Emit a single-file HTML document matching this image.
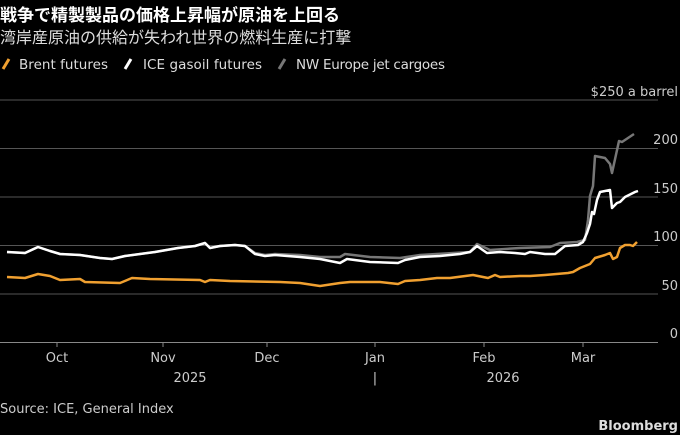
<!DOCTYPE html>
<html><head><meta charset="utf-8"><style>
body{margin:0;background:#000;width:680px;height:435px;overflow:hidden;font-family:"DejaVu Sans","Noto Sans CJK JP",sans-serif;color:#fff}
.t{position:absolute;left:0;top:1px;font-size:17px;font-weight:bold;white-space:nowrap;font-family:"Liberation Sans","Noto Sans CJK JP",sans-serif}
.s{position:absolute;left:0;top:24px;font-size:16px;color:#ddd;white-space:nowrap;font-family:"Liberation Sans","Noto Sans CJK JP",sans-serif}
</style></head><body>
<div class="t">戦争で精製製品の価格上昇幅が原油を上回る</div>
<div class="s">湾岸産原油の供給が失われ世界の燃料生産に打撃</div>
<svg width="680" height="435" style="position:absolute;left:0;top:0" font-family="DejaVu Sans, sans-serif">
<g font-size="13.5" fill="#ddd">
<line x1="3" y1="69" x2="9" y2="59" stroke="#f0a030" stroke-width="3"/>
<text x="19" y="69" textLength="89">Brent futures</text>
<line x1="125" y1="69" x2="131" y2="59" stroke="#fff" stroke-width="3"/>
<text x="143" y="69" textLength="119">ICE gasoil futures</text>
<line x1="279" y1="69" x2="285" y2="59" stroke="#777" stroke-width="3"/>
<text x="296" y="69" textLength="149">NW Europe jet cargoes</text>
</g>
<g stroke="#555" stroke-width="1">
<line x1="0" y1="100" x2="658" y2="100"/><line x1="0" y1="148.5" x2="658" y2="148.5"/>
<line x1="0" y1="197" x2="658" y2="197"/><line x1="0" y1="245.5" x2="658" y2="245.5"/>
<line x1="0" y1="294" x2="658" y2="294"/>
</g>
<line x1="0" y1="342.5" x2="658" y2="342.5" stroke="#888"/>
<g stroke="#888"><line x1="57" y1="342" x2="57" y2="347"/><line x1="163" y1="342" x2="163" y2="347"/><line x1="267" y1="342" x2="267" y2="347"/><line x1="375" y1="342" x2="375" y2="347"/><line x1="484" y1="342" x2="484" y2="347"/><line x1="583" y1="342" x2="583" y2="347"/></g>
<g font-size="13" fill="#ccc" text-anchor="end">
<text x="678" y="96">$250 a barrel</text>
<text x="678" y="144">200</text><text x="678" y="193">150</text>
<text x="678" y="241">100</text><text x="678" y="290">50</text><text x="678" y="338">0</text>
</g>
<g font-size="13" fill="#ccc" text-anchor="middle">
<text x="57" y="362">Oct</text><text x="163" y="362">Nov</text><text x="267" y="362">Dec</text>
<text x="375" y="362">Jan</text><text x="484" y="362">Feb</text><text x="583" y="362">Mar</text>
<text x="190" y="382">2025</text><text x="375" y="382">|</text><text x="503" y="382">2026</text>
</g>
<g fill="none" stroke-width="2.5" stroke-linejoin="round">
<polyline stroke="#777" points="7,252 25,253 38,247 50,251 60,254 80,255 100,258 112,259 125,256 155,252 178,248 195,246 205,243 210,248 220,246 235,245 245,246 255,253 265,255 275,254 300,255 320,257 340,257 345,254 370,257 400,258 420,255 470,252 477,244 490,250 520,248 550,247 560,243 577,242 585,240 588,220 590,196 593,186 595,156 605,158 610,164 612,173 619,141 622,142 628,138 634,134"/>
<polyline stroke="#fff" points="7,252 25,253 38,247 50,251 60,254 80,255 100,258 112,259 125,256 155,252 178,248 195,246 205,243 210,248 220,246 235,245 245,246 255,254 265,256 275,255 300,257 320,259 340,263 347,259 370,262 398,263 405,260 420,257 440,256 460,254 470,252 477,246 487,253 500,252 515,253 525,254 530,252 545,254 555,254 565,246 578,245 583,242 587,233 590,224 592,212 594,214 597,200 600,192 610,190 612,208 617,203 620,202 625,197 635,192 638,191"/>
<polyline stroke="#f0a030" points="7,277 25,278 38,274 50,276 60,280 80,279 85,282 120,283 132,278 150,279 200,280 205,282 210,280 230,281 280,282 300,283 320,286 340,283 350,282 380,282 398,284 405,281 420,280 437,278 450,278 473,275 488,278 495,275 500,277 520,276 530,276 545,275 568,273 573,272 580,268 585,266 590,264 595,258 605,255 610,253 613,259 617,257 620,248 625,245 630,245 633,246 637,242"/>
</g>
<text x="0" y="413" font-size="13" fill="#ccc">Source: ICE, General Index</text>
<text x="678" y="430" font-size="13" font-weight="bold" fill="#ddd" text-anchor="end">Bloomberg</text>
</svg>
</body></html>
